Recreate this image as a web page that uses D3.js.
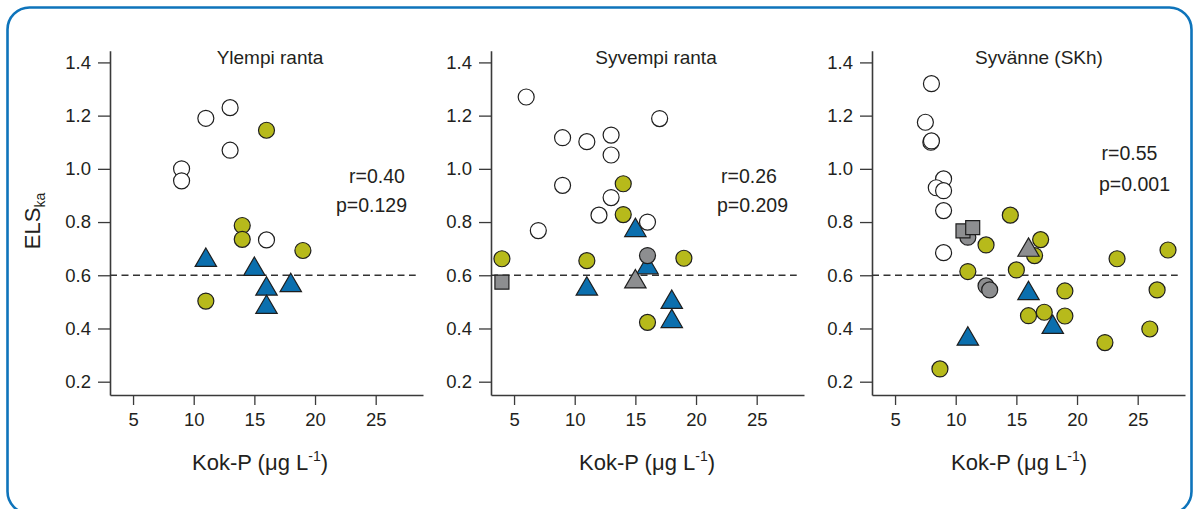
<!DOCTYPE html>
<html>
<head>
<meta charset="utf-8">
<script src="https://cdn.jsdelivr.net/npm/d3@7"></script>
<style>
  html, body { margin: 0; padding: 0; background: #ffffff; }
  svg { display: block; font-family: "Liberation Sans", Arial, Helvetica, sans-serif; }
</style>
</head>
<body>
<svg id="chart" width="1193" height="509"></svg>
<script>
// Axis ticks
const xTicks = [5, 10, 15, 20, 25];
const yTicks = [0.2, 0.4, 0.6, 0.8, 1.0, 1.2, 1.4];
const refLevel = 0.6;

const panelTitles = ["Ylempi ranta", "Syvempi ranta", "Syvänne (SKh)"];
const statR = ["r=0.40", "r=0.26", "r=0.55"];
const statP = ["p=0.129", "p=0.209", "p=0.001"];

// Ylempi ranta: [Kok-P, ELS]
const ylempiOpen = [[9, 1.0], [9, 0.955], [11, 1.19], [13, 1.23], [13, 1.07], [16, 0.733]];
const ylempiOlive = [[16, 1.145], [14, 0.787], [14, 0.735], [19, 0.693], [11, 0.503]];
const ylempiBlueTri = [[11, 0.668], [15, 0.634], [18, 0.573], [16, 0.56], [16, 0.491]];
const ylempiGreyCircle = [];
const ylempiGreySquare = [];
const ylempiGreyTri = [];

// Syvempi ranta
const syvempiOpen = [[6, 1.27], [9, 1.117], [11, 1.102], [13, 1.127], [13, 1.052], [17, 1.189],
  [9, 0.938], [13, 0.892], [12, 0.826], [16, 0.80], [7, 0.768]];
const syvempiOlive = [[14, 0.944], [14, 0.828], [4, 0.662], [11, 0.655], [19, 0.664], [16, 0.423]];
const syvempiBlueTri = [[15, 0.78], [16, 0.64], [11, 0.56], [18, 0.51], [18, 0.438]];
const syvempiGreyCircle = [[16, 0.674]];
const syvempiGreySquare = [[4, 0.574]];
const syvempiGreyTri = [[15, 0.587]];

// Syvänne (SKh)
const syvanneOpen = [[8, 1.32], [7.5, 1.175], [7.95, 1.10], [8.0, 1.105], [9, 0.962], [8.4, 0.929],
  [9, 0.918], [9, 0.843], [9, 0.685]];
const syvanneOlive = [[14.5, 0.826], [12.5, 0.714], [17, 0.734], [16.5, 0.674], [11, 0.614], [15, 0.62],
  [19, 0.541], [16, 0.448], [17.3, 0.461], [19, 0.447], [23.3, 0.662], [27.5, 0.695], [26.6, 0.545],
  [26, 0.398], [22.3, 0.347], [8.7, 0.248]];
const syvanneBlueTri = [[11, 0.372], [16, 0.543], [18, 0.416]];
const syvanneGreyCircle = [[11, 0.743], [12.5, 0.56], [12.8, 0.545]];
const syvanneGreySquare = [[10.6, 0.767], [11.4, 0.779]];
const syvanneGreyTri = [[16, 0.706]];

const panelData = [
  { open: ylempiOpen, olive: ylempiOlive, blueTri: ylempiBlueTri, greyCircle: ylempiGreyCircle, greySquare: ylempiGreySquare, greyTri: ylempiGreyTri },
  { open: syvempiOpen, olive: syvempiOlive, blueTri: syvempiBlueTri, greyCircle: syvempiGreyCircle, greySquare: syvempiGreySquare, greyTri: syvempiGreyTri },
  { open: syvanneOpen, olive: syvanneOlive, blueTri: syvanneBlueTri, greyCircle: syvanneGreyCircle, greySquare: syvanneGreySquare, greyTri: syvanneGreyTri }
];

// Layout
const panelLeft = [110, 491, 872];
const panelWidth = 313;
const plotTop = 50.7, plotBottom = 395;
const titleX = [160, 165, 167];
const axisLabelX = [150, 156, 147];
const statRPos = [[239, 183], [230, 183], [229.5, 160]];
const statPPos = [[226, 212], [226, 212], [227, 190.7]];

const colors = {
  olive: "#b7ba1b",
  blue: "#0b6fae",
  grey: "#8d8e90",
  open: "#ffffff",
  edge: "#1e1e1e",
  axis: "#3a3a3a",
  text: "#231f20",
  frame: "#0e74bb"
};

const svg = d3.select("#chart");

// Rounded frame
svg.append("rect")
  .attr("x", 7.5).attr("y", 7.5)
  .attr("width", 1184).attr("height", 506)
  .attr("rx", 22).attr("ry", 22)
  .attr("fill", "none")
  .attr("stroke", colors.frame)
  .attr("stroke-width", 2.6);

const y = d3.scaleLinear().domain([0.15, 1.444]).range([plotBottom, plotTop]);

// Triangle centred on its bounding box
const triangleType = {
  draw(ctx, size) {
    const w = Math.sqrt(size) * 1.16, h = w * 0.86;
    ctx.moveTo(0, -h / 2);
    ctx.lineTo(w / 2, h / 2);
    ctx.lineTo(-w / 2, h / 2);
    ctx.closePath();
  }
};
const squareType = {
  draw(ctx, size) {
    const s = Math.sqrt(size) / 2;
    ctx.rect(-s, -s, 2 * s, 2 * s);
  }
};

panelData.forEach((pd, i) => {
  const left = panelLeft[i];
  const x = d3.scaleLinear().domain([3.1, 28.9]).range([left, left + panelWidth]);
  const g = svg.append("g");

  // Y axis
  const yAxis = g.append("g")
    .attr("transform", `translate(${left},0)`)
    .call(d3.axisLeft(y).tickValues(yTicks).tickFormat(d3.format(".1f")).tickSize(12).tickPadding(7).tickSizeOuter(0));
  // X axis
  const xAxis = g.append("g")
    .attr("transform", `translate(0,${plotBottom})`)
    .call(d3.axisBottom(x).tickValues(xTicks).tickFormat(d3.format("d")).tickSize(10).tickPadding(8).tickSizeOuter(0));

  [yAxis, xAxis].forEach(ax => {
    ax.select(".domain").attr("stroke", colors.axis).attr("stroke-width", 1.6);
    ax.selectAll(".tick line").attr("stroke", colors.axis).attr("stroke-width", 1.3);
    ax.selectAll(".tick text").attr("fill", colors.text).attr("font-size", 18.5)
      .attr("font-family", "'Liberation Sans', Arial, sans-serif");
  });

  // Reference line
  g.append("line")
    .attr("x1", left).attr("x2", x(28.3))
    .attr("y1", y(refLevel)).attr("y2", y(refLevel))
    .attr("stroke", "#333").attr("stroke-width", 1.3)
    .attr("stroke-dasharray", "7,4.5");

  // Title
  g.append("text")
    .attr("x", left + titleX[i]).attr("y", 64)
    .attr("text-anchor", "middle")
    .attr("font-size", 19).attr("fill", colors.text)
    .text(panelTitles[i]);

  // Statistics
  g.append("text").attr("x", left + statRPos[i][0]).attr("y", statRPos[i][1])
    .attr("font-size", 19.5).attr("fill", colors.text).text(statR[i]);
  g.append("text").attr("x", left + statPPos[i][0]).attr("y", statPPos[i][1])
    .attr("font-size", 19.5).attr("fill", colors.text).text(statP[i]);

  // X axis label
  const xl = g.append("text")
    .attr("x", left + axisLabelX[i]).attr("y", 470)
    .attr("text-anchor", "middle")
    .attr("font-size", 22).attr("fill", colors.text);
  xl.append("tspan").text("Kok-P (μg L");
  xl.append("tspan").attr("font-size", 14).attr("dy", -9).text("-1");
  xl.append("tspan").attr("dy", 9).text(")");

  // Markers
  const sym = (type, size) => d3.symbol().type(type).size(size);
  const drawSet = (data, path, fill) => {
    g.append("g").selectAll("path").data(data).join("path")
      .attr("transform", d => `translate(${x(d[0])},${y(d[1])})`)
      .attr("d", path)
      .attr("fill", fill)
      .attr("stroke", colors.edge)
      .attr("stroke-width", 1.2);
  };
  drawSet(pd.open, sym(d3.symbolCircle, Math.PI * 8 * 8), colors.open);
  drawSet(pd.olive, sym(d3.symbolCircle, Math.PI * 8 * 8), colors.olive);
  drawSet(pd.blueTri, sym(triangleType, 340), colors.blue);
  drawSet(pd.greyCircle, sym(d3.symbolCircle, Math.PI * 8 * 8), colors.grey);
  drawSet(pd.greySquare, sym(squareType, 14 * 14), colors.grey);
  drawSet(pd.greyTri, sym(triangleType, 340), colors.grey);
});

// Y axis label
const yl = svg.append("text")
  .attr("transform", "translate(40,221) rotate(-90)")
  .attr("text-anchor", "middle")
  .attr("font-size", 22).attr("fill", colors.text);
yl.append("tspan").text("ELS");
yl.append("tspan").attr("font-size", 14).attr("dy", 5).text("ka");
</script>
</body>
</html>
